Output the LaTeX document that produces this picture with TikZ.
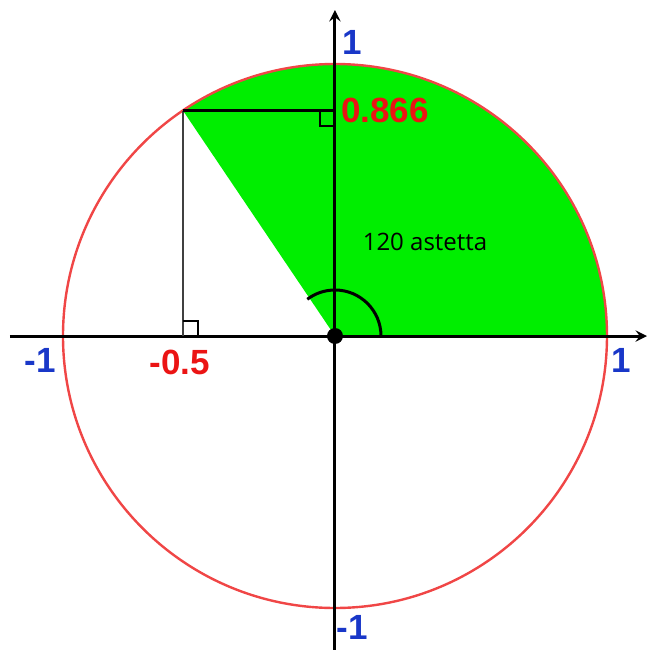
\documentclass[tikz,border=0pt]{standalone}
\usepackage{fontspec}
\setmainfont{Liberation Sans}
\newfontfamily\notefont{Open Sans}
\usetikzlibrary{positioning}
\definecolor{sectorgreen}{RGB}{0,238,0}
\definecolor{circlered}{RGB}{240,70,70}
\definecolor{valred}{RGB}{235,20,20}
\definecolor{unitblue}{RGB}{25,55,200}
\tikzset{
  unitlabel/.style={text=unitblue, font=\bfseries\fontsize{17.5}{20}\selectfont, inner sep=0pt},
  vallabel/.style={text=valred, font=\bfseries\fontsize{17.5}{20}\selectfont, inner sep=0pt},
  axis/.style={line width=1.5pt, ->},
}

\begin{document}
\begin{tikzpicture}[>=stealth, x=0.5pt, y=0.5pt]
  \useasboundingbox (-335,-314) rectangle (314,336);
  \coordinate (O) at (0,0);
  \coordinate (P) at (124:272);
  \coordinate (Px) at (P |- O);
  \coordinate (Py) at (O |- P);
  \coordinate (xa) at (-325,0);
  \coordinate (xb) at (312,0);
  \coordinate (ya) at (0,-316);
  \coordinate (yb) at (0,326);
  % sector and circle
  \fill[sectorgreen] (O) -- (0:272) arc (0:124:272) -- cycle;
  \draw[circlered, line width=1.2pt] (O) circle (272);
  % axes
  \draw[axis] (xa) -- (xb);
  \draw[axis] (ya) -- (yb);
  \foreach \t in {0,90,180,270}
    \draw[line width=1.2pt] (\t:267) -- (\t:277);
  % projections
  \draw[black!75, line width=1.3pt] (P) -- (Px);
  \draw[line width=1.3pt] (P) -- (Py);
  \draw[line width=1pt] (Px) ++(15,0) -- ++(0,15) -- ++(-15,0);
  \draw[line width=1pt] (Py) ++(-15,0) -- ++(0,-15) -- ++(15,0);
  % angle
  \draw[line width=1.5pt] (46,0) arc (0:127:46);
  \fill (O) circle (8);
  % labels
  \node[unitlabel] (ytop) at (17,294) {1};
  \node[unitlabel] (ybot) at (17,-291) {-1};
  \node[unitlabel] (xright) at (286,-24) {1};
  \node[unitlabel] (xleft) at (-295,-24) {-1};
  \node[vallabel] (cosv) at (-155,-26) {-0.5};
  \node[vallabel] (sinv) at (50,226) {0.866};
  \node[font=\notefont\fontsize{12}{14}\selectfont, inner sep=0pt] (ang) at (90,94) {120 astetta};
\end{tikzpicture}
\end{document}
